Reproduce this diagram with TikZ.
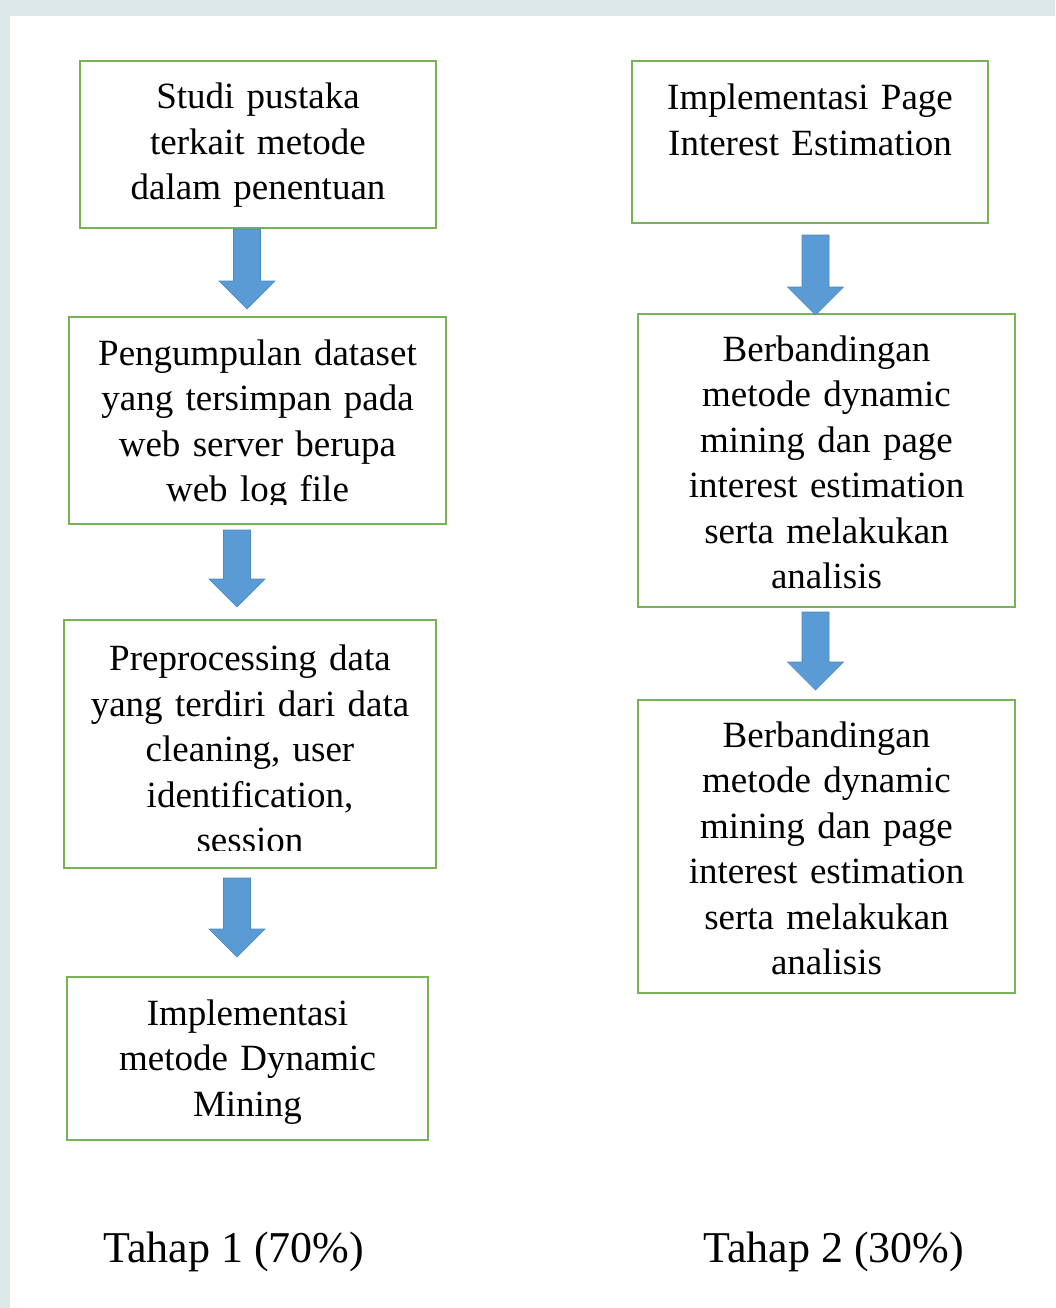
\documentclass[tikz,border=0pt]{standalone}
\usepackage{fontspec}
\setmainfont{Liberation Serif}
\definecolor{bgc}{HTML}{DDE8E8}
\definecolor{boxg}{HTML}{77B256}
\definecolor{arrb}{HTML}{5B9BD5}
\definecolor{arre}{HTML}{4A88C2}
\tikzset{
  stepbox/.style={draw=boxg, line width=2pt, fill=white, inner sep=0pt},
  boxtext/.style={anchor=base, align=center, text width=#1, inner sep=0pt,
    font=\fontsize{37}{45.5}\selectfont},
  blockarr/.style={fill=arrb, draw=arre, line width=0.6pt, line join=miter},
  tahap/.style={anchor=base west, inner sep=0pt, font=\fontsize{44}{50}\selectfont}
}
% block arrow: name, centre x, top y, head start y, tip y
\newcommand\mybarrow[5]{%
  \coordinate (#1) at (#2,#3);
  \filldraw[blockarr] ($(#1)+(-13.5,0)$) -- ($(#1)+(13.5,0)$) -- (#2+13.5,#4) -- (#2+28,#4)
    -- (#2,#5) -- (#2-28,#4) -- (#2-13.5,#4) -- cycle;}
\usetikzlibrary{calc}
\begin{document}
\begin{tikzpicture}[x=1pt,y=-1pt]
\useasboundingbox (0,0) rectangle (1055,1308);
\fill[bgc] (0,0) rectangle (1055,1308);
\fill[white] (10,16) rectangle (1055,1308);

% left column boxes
\node[stepbox, minimum width=356pt, minimum height=167pt] (b1) at (258,144.5) {};
\node[stepbox, minimum width=377pt, minimum height=207pt] (b2) at (257.5,420.5) {};
\node[stepbox, minimum width=372pt, minimum height=248pt] (b3) at (250,744) {};
\node[stepbox, minimum width=361pt, minimum height=163pt] (b4) at (247.5,1058.5) {};
% right column boxes
\node[stepbox, minimum width=356pt, minimum height=162pt] (r1) at (810,142) {};
\node[stepbox, minimum width=377pt, minimum height=293pt] (r2) at (826.5,460.5) {};
\node[stepbox, minimum width=377pt, minimum height=293pt] (r3) at (826.5,846.5) {};

% texts
\node[boxtext=350pt] (t1) at (258,109) {Studi pustaka\\terkait metode\\dalam penentuan};
\begin{scope}
  \clip (70,318) rectangle (445,504);
  \node[boxtext=370pt] (t2) at (257.5,365) {Pengumpulan dataset\\yang tersimpan pada\\web server berupa\\web log file};
\end{scope}
\begin{scope}
  \clip (65,621) rectangle (435,850);
  \node[boxtext=365pt] (t3) at (250,670.5) {Preprocessing data\\yang terdiri dari data\\cleaning, user\\identification,\\session};
\end{scope}
\node[boxtext=355pt] (t4) at (247.5,1025) {Implementasi\\metode Dynamic\\Mining};
\node[boxtext=350pt] (t5) at (810,110) {Implementasi Page\\Interest Estimation};
\node[boxtext=370pt] (t6) at (826.5,361) {Berbandingan\\metode dynamic\\mining dan page\\interest estimation\\serta melakukan\\analisis};
\node[boxtext=370pt] (t7) at (826.5,747) {Berbandingan\\metode dynamic\\mining dan page\\interest estimation\\serta melakukan\\analisis};

% block arrows
\mybarrow{a1}{247}{229}{281}{309}
\mybarrow{a2}{237}{530}{579}{607}
\mybarrow{a3}{237}{878}{929}{957}
\mybarrow{a4}{815.5}{235}{287}{315}
\mybarrow{a5}{815.5}{612}{662}{690}

% stage labels
\node[tahap] (l1) at (103,1262) {Tahap 1 (70\%)};
\node[tahap] (l2) at (703,1262) {Tahap 2 (30\%)};
\end{tikzpicture}
\end{document}
